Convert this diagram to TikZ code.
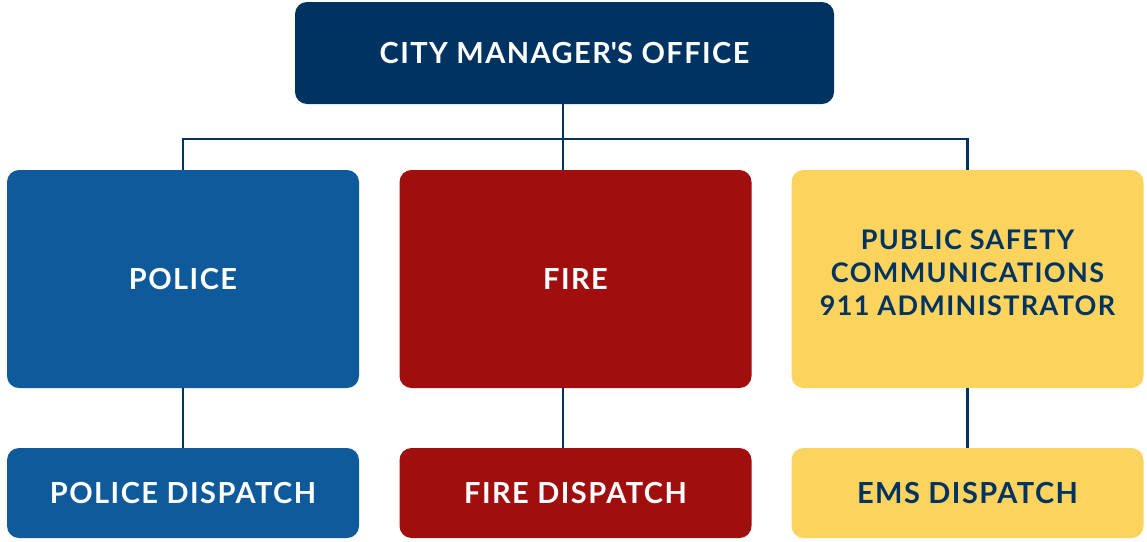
\documentclass[tikz,border=0pt]{standalone}
\usepackage{fontspec}
\setmainfont{Lato}[LetterSpace=5]
\usepackage{tikz}
\usetikzlibrary{positioning}

\definecolor{navy}{HTML}{003361}
\definecolor{policeblue}{HTML}{0F5A9B}
\definecolor{firered}{HTML}{A00E0E}
\definecolor{safetyyellow}{HTML}{FCD45D}

\begin{document}
\begin{tikzpicture}[x=1pt,y=-1pt,
  unit/.style={rounded corners=12pt,minimum width=352pt,inner sep=0pt,
    font=\fontsize{29}{33}\selectfont\bfseries,align=center},
  head/.style={unit,minimum height=218pt},
  desk/.style={unit,minimum height=90pt},
  link/.style={draw=navy,line width=2.5pt}]
\useasboundingbox (0,0) rectangle (1147,541);
\node[unit,fill=navy,text=white,minimum width=539pt,minimum height=102pt] (office) at (564.5,53) {CITY MANAGER\textquotesingle S OFFICE};
\node[head,fill=policeblue,text=white] (police) at (183,279) {POLICE};
\node[head,fill=firered,text=white] (fire) at (575.5,279) {FIRE};
\node[head,fill=safetyyellow,text=navy] (safety) at (967.5,279) {};
\node[text=navy,align=center,font=\fontsize{27}{33}\selectfont\bfseries,inner sep=0pt] (safetytext) at (967.5,273) {PUBLIC SAFETY\\COMMUNICATIONS\\911 ADMINISTRATOR};
\node[desk,fill=policeblue,text=white] (policedesk) at (183,493) {POLICE DISPATCH};
\node[desk,fill=firered,text=white] (firedesk) at (575.5,493) {FIRE DISPATCH};
\node[desk,fill=safetyyellow,text=navy] (emsdesk) at (967.5,493) {EMS DISPATCH};

\coordinate (J) at (563,139);
\draw[link] (office.south -| J) -- (fire.north -| J);
\draw[link] (police.north) |- (J) -| (safety.north);
\draw[link] (police.south) -- (policedesk.north);
\draw[link] (fire.south -| J) -- (firedesk.north -| J);
\draw[link] (safety.south) -- (emsdesk.north);
\end{tikzpicture}
\end{document}
